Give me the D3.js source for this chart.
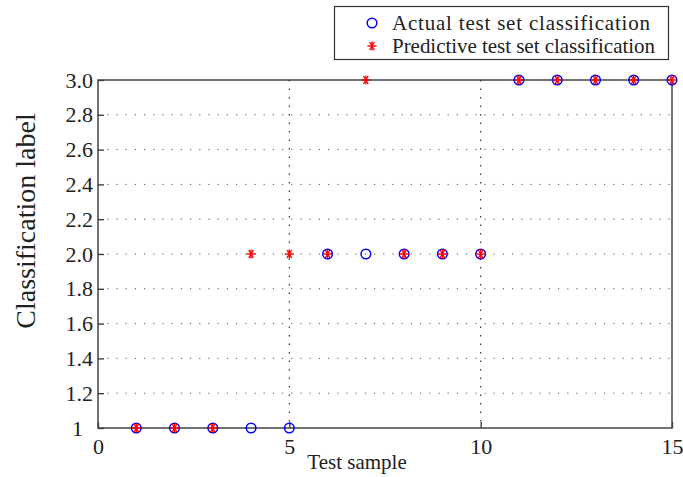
<!DOCTYPE html>
<html><head><meta charset="utf-8">
<script src="https://cdn.jsdelivr.net/npm/d3@7"></script>
<style>body{margin:0;background:#fff}svg{display:block}svg text{font-family:"Liberation Serif",serif !important;fill:#222}</style>
</head><body><svg id="c" width="683" height="477"></svg>
<script>
const samples = [1,2,3,4,5,6,7,8,9,10,11,12,13,14,15];
const actual = [1,1,1,1,1,2,2,2,2,2,3,3,3,3,3];
const predicted = [1,1,1,2,2,2,3,2,2,2,3,3,3,3,3];
const xTicks = [0,5,10,15];
const yTicks = [1,1.2,1.4,1.6,1.8,2.0,2.2,2.4,2.6,2.8,3.0];
const yTickLabels = ["1","1.2","1.4","1.6","1.8","2.0","2.2","2.4","2.6","2.8","3.0"];
const legendLabels = ["Actual test set classification","Predictive test set classification"];

const FONT = '"Liberation Serif", serif';
const svg = d3.select("#c");
const L=98,R=672,T=80,B=428;
const x = d3.scaleLinear().domain([0,15]).range([L,R]);
const y = d3.scaleLinear().domain([1,3]).range([B,T]);

// grid
const g = svg.append("g");
g.selectAll(".hg").data(yTicks.filter(v=>v>1.01&&v<2.99)).enter().append("line")
 .attr("x1",L).attr("x2",R).attr("y1",d=>y(d)).attr("y2",d=>y(d))
 .attr("stroke","#555").attr("stroke-width",1).attr("stroke-dasharray","1.2,8");
g.selectAll(".vg").data(xTicks.filter(v=>v>0&&v<15)).enter().append("line")
 .attr("x1",d=>x(d)).attr("x2",d=>x(d)).attr("y1",T).attr("y2",B)
 .attr("stroke","#333").attr("stroke-width",1.2).attr("stroke-dasharray","1.5,7");

// axes
const ax = svg.append("g").attr("transform",`translate(0,${B})`)
 .call(d3.axisBottom(x).tickValues(xTicks).tickSize(-6).tickPadding(6).tickFormat(d3.format("d")));
const ay = svg.append("g").attr("transform",`translate(${L},0)`)
 .call(d3.axisLeft(y).tickValues(yTicks).tickSize(-6).tickPadding(5).tickFormat((d,i)=>yTickLabels[i]));
[ax,ay].forEach(a=>{
  a.attr("font-family",FONT).attr("font-size",22);
  a.select(".domain").remove();
  a.selectAll("line").attr("stroke","#333").attr("stroke-width",1.3);
  a.selectAll("text").attr("font-family",FONT).attr("font-size",22).attr("fill","#222");
});
ax.selectAll("text").attr("dy","0.9em");
ay.selectAll("text").filter(d=>d===1).attr("dx",-10);
// frame
svg.append("rect").attr("x",L).attr("y",T).attr("width",R-L).attr("height",B-T)
 .attr("fill","none").attr("stroke","#444").attr("stroke-width",1.5);

// markers
function star(sel, cx, cy, s){
  const gg = sel.append("g").attr("transform",`translate(${cx},${cy})`).attr("stroke","#ff0000").attr("stroke-width",1.4);
  [0,60,120].forEach(a=>{
    const r=a*Math.PI/180;
    gg.append("line").attr("x1",-s*Math.cos(r)).attr("y1",-s*Math.sin(r)).attr("x2",s*Math.cos(r)).attr("y2",s*Math.sin(r));
  });
  gg.append("line").attr("x1",0).attr("y1",-s).attr("x2",0).attr("y2",s);
}
svg.append("g").selectAll("circle").data(samples).enter().append("circle")
 .attr("cx",d=>x(d)).attr("cy",(d,i)=>y(actual[i])).attr("r",4.8)
 .attr("fill","none").attr("stroke","#0000ff").attr("stroke-width",1.5);
const sg = svg.append("g");
samples.forEach((d,i)=>star(sg, x(d), y(predicted[i]), 4.6));

// labels
svg.append("text").attr("x",357).attr("y",469).attr("text-anchor","middle").attr("font-family",FONT).attr("font-size",21).text("Test sample");
svg.append("text").attr("transform","translate(35,221) rotate(-90)").attr("text-anchor","middle").attr("font-family",FONT).attr("font-size",28).text("Classification label");

// legend
svg.append("rect").attr("x",334.5).attr("y",6.5).attr("width",334).attr("height",53)
 .attr("fill","#fff").attr("stroke","#333").attr("stroke-width",1.2);
svg.append("circle").attr("cx",372).attr("cy",23).attr("r",4.8).attr("fill","none").attr("stroke","#0000ff").attr("stroke-width",1.5);
star(svg,372,46,4.6);
svg.append("text").attr("x",392).attr("y",30).attr("font-family",FONT).attr("font-size",21).attr("textLength",258).attr("lengthAdjust","spacing").text(legendLabels[0]);
svg.append("text").attr("x",392).attr("y",53).attr("font-family",FONT).attr("font-size",21).attr("textLength",263).attr("lengthAdjust","spacing").text(legendLabels[1]);
</script></body></html>
